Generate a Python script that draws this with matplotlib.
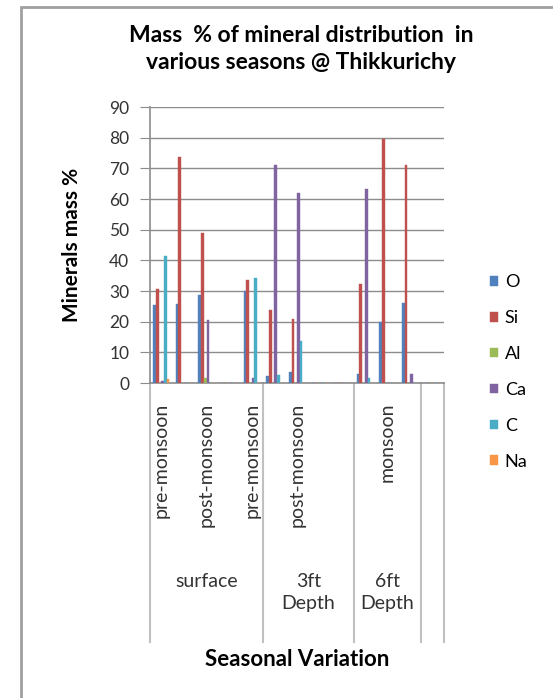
import numpy as np
import matplotlib
matplotlib.use("Agg")
import matplotlib.pyplot as plt
import matplotlib.transforms as mtransforms
from matplotlib.patches import Rectangle

plt.rcParams['font.family'] = ['Lato', 'DejaVu Sans']

# 13 category slots on the axis (Excel sheet with a few empty rows)
categories = ["pre-monsoon", "", "post-monsoon", "", "pre-monsoon", "",
              "post-monsoon", "", "", "", "monsoon", "", ""]
groups = ["surface", "3ft\nDepth", "6ft\nDepth", ""]
group_bounds = [(0, 4), (5, 8), (9, 11), (12, 12)]

minerals = ["O", "Si", "Al", "Ca", "C", "Na"]
O  = [25.4, 25.8, 28.7, 0, 30.0, 2.3, 3.5, 0, 0, 2.8, 20.0, 26.0, 0]
Si = [30.6, 73.7, 49.0, 0, 33.6, 23.7, 20.8, 0, 0, 32.3, 79.6, 71.1, 0]
Al = [0, 0, 1.5, 0, 0, 0, 0, 0, 0, 0, 0, 0, 0]
Ca = [0.6, 0, 20.5, 0, 1.5, 71.1, 61.9, 0, 0, 63.4, 0, 2.8, 0]
C  = [41.4, 0, 0, 0, 34.3, 2.7, 13.8, 0, 0, 1.5, 0, 0, 0]
Na = [1.3, 0, 0, 0, 0, 0, 0, 0, 0, 0, 0, 0, 0]
series = [O, Si, Al, Ca, C, Na]
colors = ["#4F81BD", "#C0504D", "#9BBB59", "#8064A2", "#4BACC6", "#F79646"]

fig = plt.figure(figsize=(5.53, 6.98), dpi=100)
ax = fig.add_axes([150 / 553, 1 - 383 / 698, 294 / 553, 276 / 698])

x = np.arange(len(categories))
w = 0.12
for i, (vals, col) in enumerate(zip(series, colors)):
    ax.bar(x + (i - 2.5) * w, vals, width=w, color=col, label=minerals[i],
           edgecolor=col, linewidth=0.3, zorder=3)

ax.set_xlim(-0.5, len(categories) - 0.5)
ax.set_ylim(0, 90)
ax.set_yticks(np.arange(0, 91, 10))
ax.yaxis.grid(True, color="#8c8c8c", linewidth=1.0, zorder=0)
ax.tick_params(axis='y', direction='out', length=7, color="#8c8c8c",
               labelsize=12.5, labelcolor="#333333", pad=8)
ax.set_xticks([])
for s in ['top', 'right']:
    ax.spines[s].set_visible(False)
for s in ['left', 'bottom']:
    ax.spines[s].set_color("#8c8c8c")
    ax.spines[s].set_linewidth(1.2)

# multi-level category axis
trans = mtransforms.blended_transform_factory(ax.transData, ax.transAxes)
for xi, lab in zip(x, categories):
    if lab:
        ax.text(xi, -0.072, lab, rotation=90, ha='center', va='top',
                fontsize=14, color="#333333", transform=trans)
for b in [-0.5, 4.5, 8.5, 11.5, 12.5]:
    ax.plot([b, b], [0, -0.938], color="#c0c0c0", lw=1.5,
            transform=trans, clip_on=False)
for g, (a, b) in zip(groups, group_bounds):
    if g:
        ax.text((a + b) / 2, -0.69, g, ha='center', va='top', fontsize=14,
                color="#333333", transform=trans, linespacing=1.3)

ax.set_ylabel("Minerals mass %", fontsize=15, fontweight='bold')
ax.yaxis.set_label_coords(-0.23, 0.5)
fig.text(297 / 553, 1 - 660 / 698, "Seasonal Variation", ha='center',
         va='center', fontsize=16, fontweight='bold')
fig.text(301 / 553, 1 - 49 / 698,
         "Mass  % of mineral distribution  in\nvarious seasons @ Thikkurichy",
         ha='center', va='center', fontsize=16.5, fontweight='bold',
         linespacing=1.32)

fig.legend(loc='center left', bbox_to_anchor=(474 / 553, 1 - 372 / 698),
           frameon=False, fontsize=13, handlelength=0.45, handleheight=0.45,
           handletextpad=0.35, labelspacing=1.1)

# outer chart frame
fig.add_artist(Rectangle((21 / 553, -0.05), 1.0, 1 - 7 / 698 + 0.05,
                         transform=fig.transFigure, fill=False,
                         edgecolor="#a0a0a0", linewidth=2))

fig.savefig("out.png", dpi=100)
